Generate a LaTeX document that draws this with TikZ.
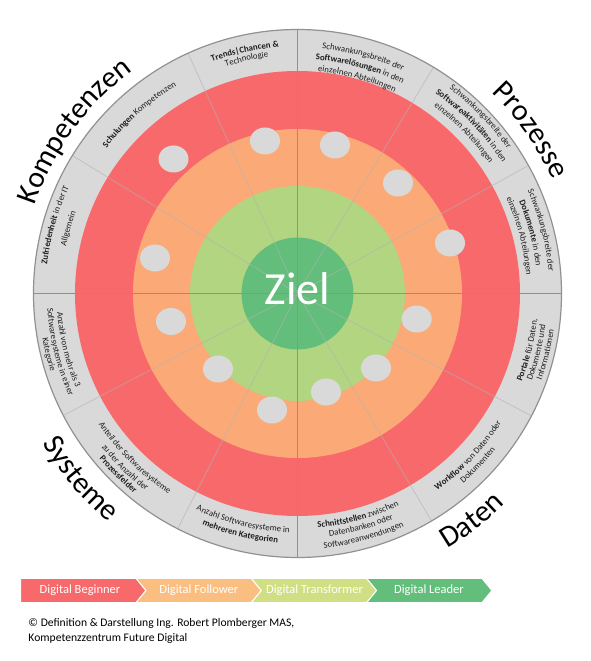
\documentclass[tikz,border=0pt]{standalone}
\usepackage{fontspec}
\setmainfont{Carlito}
\usetikzlibrary{decorations.text,shapes.geometric}
\definecolor{bandgray}{RGB}{217,217,217}
\definecolor{ringred}{RGB}{248,105,107}
\definecolor{ringorange}{RGB}{251,170,119}
\definecolor{ringlgreen}{RGB}{177,213,128}
\definecolor{ringdgreen}{RGB}{99,190,123}
\definecolor{legorange}{RGB}{251,190,129}
\definecolor{leglgreen}{RGB}{208,223,131}
\definecolor{segtext}{RGB}{30,30,30}
\definecolor{rimgray}{RGB}{145,145,145}
\newcommand\segfont{\fontsize{8.8}{10}\selectfont}
\newcommand\bigfont{\fontsize{30}{36}\selectfont}
% clockwise text, tops outward
\newcommand\cwtext[3]{{\segfont\path[decorate,decoration={text along path,text align=center,text color=segtext,text={#3}}] ({#1+25}:#2) arc[start angle={#1+25},end angle={#1-25},radius=#2];}}
% same, whole line bold, text given first
\newcommand\cwboldraw[3]{{\segfont\bfseries\path[decorate,decoration={text along path,text align=center,text color=segtext,text={#1}}] ({#2+25}:#3) arc[start angle={#2+25},end angle={#2-25},radius=#3];}}
% counterclockwise text, tops inward
\newcommand\ccwtext[3]{{\segfont\path[decorate,decoration={text along path,text align=center,text color=segtext,text={#3}}] ({#1-25}:#2) arc[start angle={#1-25},end angle={#1+25},radius=#2];}}
\newcommand\bigcw[3]{{\bigfont\path[decorate,decoration={text along path,text align=center,text={#3}}] ({#1+40}:#2) arc[start angle={#1+40},end angle={#1-40},radius=#2];}}
\newcommand\bigccw[3]{{\bigfont\path[decorate,decoration={text along path,text align=center,text={#3}}] ({#1-40}:#2) arc[start angle={#1-40},end angle={#1+40},radius=#2];}}
\begingroup
\catcode`\|=11 \catcode`\&=11
\gdef\trendstext{Trends|Chancen &}
\endgroup
\tikzset{
  minorline/.style={draw=gray!60,draw opacity=0.6,line width=0.8pt},
  majorline/.style={draw=rimgray,line width=1.2pt},
  rimline/.style={draw=rimgray,line width=1.2pt},
  dot/.style={ellipse,fill=bandgray,minimum width=30pt,minimum height=27pt,inner sep=0pt},
  legtext/.style={text=white,font=\fontsize{12.5}{14}\selectfont,anchor=base},
  legbox/.style={draw=white,line width=1pt},
  credit/.style={anchor=base west,font=\fontsize{11.6}{14}\selectfont,inner sep=0pt}
}
\begin{document}
\begin{tikzpicture}[x=1pt,y=1pt,line join=round]
\fill[white] (-297.5,-367.5) rectangle (292.5,293.5);
\useasboundingbox (-297.5,-367.5) rectangle (292.5,293.5);
\coordinate (c) at (0,0);
% rings
\fill[bandgray] (c) circle[radius=264];
\fill[ringred] (c) circle[radius=222.5];
\fill[ringorange] (c) circle[radius=164.5];
\fill[ringlgreen] (c) circle[radius=107.5];
\fill[ringdgreen] (c) circle[radius=56];
% radial lines
\foreach \a in {29,59,114.5,148.5,207.5,243,300.5,332.4} \draw[minorline] (c) -- (\a:264);
\foreach \a in {0,90,180,270} \draw[majorline] (c) -- (\a:264);
\draw[rimline] (c) circle[radius=264];
% dots
\node[dot] (d1) at (-32.5,152.5) {};
\node[dot] (d2) at (37.5,148.5) {};
\node[dot] (d3) at (-124,134.5) {};
\node[dot] (d4) at (100.5,110.5) {};
\node[dot] (d5) at (152.5,50.5) {};
\node[dot] (d6) at (-142.5,35.5) {};
\node[dot] (d7) at (-126.5,-28) {};
\node[dot] (d8) at (119.2,-25.5) {};
\node[dot] (d9) at (-79.5,-75.5) {};
\node[dot] (d10) at (78.5,-74.5) {};
\node[dot] (d11) at (28.5,-98.5) {};
\node[dot] (d12) at (-25.5,-116.5) {};
% centre
\node[text=white,font=\fontsize{46}{50}\selectfont,anchor=base,inner sep=0pt] (ziel) at (0,-11.5) {Ziel};
% segment texts, upper half
\expandafter\cwboldraw\expandafter{\trendstext}{102.25}{247}
\cwtext{102.25}{238}{Technologie}
\cwtext{74.5}{246}{Schwankungsbreite der}
\cwtext{74.5}{234.5}{|\bfseries|Softwarelösungen|\mdseries| in den}
\cwtext{74.5}{223}{einzelnen Abteilungen}
\cwtext{44}{255}{Schwankungsbreite der}
\cwtext{44}{243}{|\bfseries|Softwareaktivitäten|\mdseries| in den}
\cwtext{44}{231.5}{einzelnen Abteilungen}
\cwtext{14.5}{252}{Schwankungsbreite der}
\cwtext{14.5}{240}{|\bfseries|Dokumente|\mdseries| in den}
\cwtext{14.5}{229.5}{einzelnen Abteilungen}
\cwtext{131.5}{240}{|\bfseries|Schulungen|\mdseries| Kompetenzen}
\cwtext{164.25}{252}{|\bfseries|Zufriedenheit|\mdseries| in der IT}
\cwtext{164.25}{236}{Allgemein}
% segment texts, lower half
\ccwtext{346.2}{241}{|\bfseries|Portale|\mdseries| für Daten,}
\ccwtext{346.2}{250}{Dokumente und}
\ccwtext{346.2}{259}{Informationen}
\ccwtext{316.45}{241.5}{|\bfseries|Workflow|\mdseries| von Daten oder}
\ccwtext{316.45}{252}{Dokumenten}
\ccwtext{285.25}{235}{|\bfseries|Schnittstellen|\mdseries| zwischen}
\ccwtext{285.25}{245}{Datenbanken oder}
\ccwtext{285.25}{256}{Softwareanwendungen}
\ccwtext{256.5}{239}{Anzahl Softwaresysteme in}
\ccwtext{256.5}{250}{|\bfseries|mehreren Kategorien}
\ccwtext{225.25}{238}{Anteil der Softwaresysteme}
\ccwtext{225.25}{249}{zu der Anzahl der}
\ccwtext{225.25}{258}{|\bfseries|Prozessfelder}
\ccwtext{193.75}{241}{Anzahl von mehr als 3}
\ccwtext{193.75}{250.5}{Softwaresysteme in einer}
\ccwtext{193.75}{259}{Kategorie}
% big labels
\bigcw{144}{277}{Kompetenzen}
\bigcw{35}{279}{Prozesse}
\bigccw{220.5}{296}{Systeme}
\bigccw{307.5}{296}{Daten}
% legend
\fill[ringred,legbox] (-276.8,-284.8) -- (-161.5,-284.8) -- (-151.5,-297) -- (-161.5,-309.2) -- (-276.8,-309.2) -- cycle;
\fill[legorange,legbox] (-161.5,-284.8) -- (-46.2,-284.8) -- (-36.2,-297) -- (-46.2,-309.2) -- (-161.5,-309.2) -- (-151.5,-297) -- cycle;
\fill[leglgreen,legbox] (-46.2,-284.8) -- (69.1,-284.8) -- (79.1,-297) -- (69.1,-309.2) -- (-46.2,-309.2) -- (-36.2,-297) -- cycle;
\fill[ringdgreen,legbox] (69.1,-284.8) -- (184.4,-284.8) -- (194.4,-297) -- (184.4,-309.2) -- (69.1,-309.2) -- (79.1,-297) -- cycle;
\node[legtext] (l1) at (-217.5,-299.8) {Digital Beginner};
\node[legtext] (l2) at (-98.7,-299.8) {Digital Follower};
\node[legtext] (l3) at (17,-299.8) {Digital Transformer};
\node[legtext] (l4) at (131.5,-299.8) {Digital Leader};
\node[credit] (cr1) at (-269.2,-333.2) {© Definition \& Darstellung Ing. Robert Plomberger MAS,};
\node[credit] (cr2) at (-269.2,-348.2) {Kompetenzzentrum Future Digital};
\end{tikzpicture}
\end{document}
